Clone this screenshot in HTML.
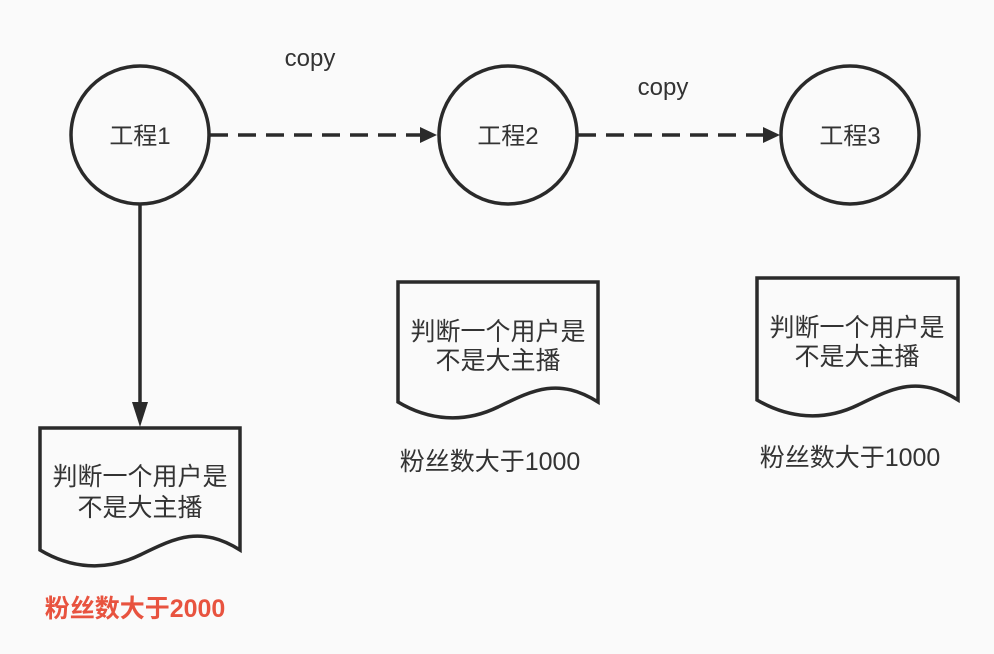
<!DOCTYPE html>
<html><head><meta charset="utf-8"><style>
body{margin:0;background:#fafafa;}
svg{display:block;font-family:"Liberation Sans","Noto Sans CJK SC",sans-serif;}
</style></head><body>
<svg width="994" height="654" viewBox="0 0 994 654">
<g stroke="#2a2a2a" stroke-width="3.5" fill="none">
<circle cx="140" cy="135" r="69"/>
<circle cx="508" cy="135" r="69"/>
<circle cx="850" cy="135" r="69"/>
<line x1="210" y1="135" x2="424" y2="135" stroke-dasharray="18,10"/>
<line x1="578" y1="135" x2="766" y2="135" stroke-dasharray="18,10"/>
<line x1="140" y1="205" x2="140" y2="405"/>
<path d="M40 428 H240 V550 C200 525 175 538 140 555 C105 572 70 568 40 550 Z"/>
<path d="M398 282 H598 V402 C558 377 533 390 498 407 C463 424 428 420 398 402 Z"/>
<path d="M757 278 H958 V400 C918 375 893 388 858 405 C823 422 788 418 757 400 Z"/>
</g>
<g fill="#2a2a2a">
<polygon points="437,135 420,127 420,143"/>
<polygon points="780,135 763,127 763,143"/>
<polygon points="140,427 132,402 148,402"/>
</g>
<g fill="#333" text-anchor="middle">
<g font-size="24">
<text x="140" y="144">工程1</text>
<text x="508" y="144">工程2</text>
<text x="850" y="144">工程3</text>
<text x="310" y="66">copy</text>
<text x="663" y="95">copy</text>
</g>
<g font-size="25">
<text x="140" y="485">判断一个用户是</text>
<text x="140" y="516">不是大主播</text>
<text x="498" y="340">判断一个用户是</text>
<text x="498" y="369">不是大主播</text>
<text x="857" y="336">判断一个用户是</text>
<text x="857" y="365">不是大主播</text>
<text x="490" y="470">粉丝数大于1000</text>
<text x="850" y="466">粉丝数大于1000</text>
</g>
</g>
<text x="135" y="617" fill="#e8533f" font-size="25" text-anchor="middle" font-weight="bold">粉丝数大于2000</text>
</svg>
</body></html>
